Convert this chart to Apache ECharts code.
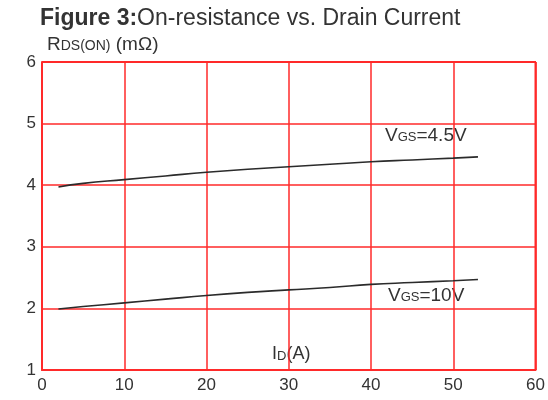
<!DOCTYPE html>
<html>
<head>
<meta charset="utf-8">
<script src="https://cdn.jsdelivr.net/npm/echarts@6/dist/echarts.min.js"></script>
<style>
  html, body { margin: 0; padding: 0; background: #fff; }
  #chart { width: 548px; height: 400px; }
</style>
</head>
<body>
<div id="chart"></div>
<script>
// Drain current (A) sample points
const drainCurrent = [2, 5, 10, 15, 20, 25, 30, 35, 40, 45, 50, 53];
// On-resistance (mΩ) at VGS = 4.5V
const rdsVgs45 = [3.97, 4.03, 4.09, 4.15, 4.21, 4.26, 4.30, 4.34, 4.38, 4.41, 4.44, 4.46];
// On-resistance (mΩ) at VGS = 10V
const rdsVgs10 = [1.99, 2.03, 2.09, 2.15, 2.21, 2.26, 2.30, 2.34, 2.39, 2.42, 2.45, 2.47];
// Axis tick labels
const xTicks = [0, 10, 20, 30, 40, 50, 60];
const yTicks = [1, 2, 3, 4, 5, 6];

const FONT = '"Liberation Sans", Arial, sans-serif';
const TXT = '#333';
const RED = '#ff2a2a';

const chart = echarts.init(document.getElementById('chart'));

function subText(left, top, main, sub, rest, big, small) {
  return {
    type: 'text', left: left, top: top,
    style: {
      text: '{r|' + main + '}{s|' + sub + '}{r|' + rest + '}',
      rich: {
        r: { fontFamily: FONT, fontSize: big, fill: TXT },
        s: { fontFamily: FONT, fontSize: small, fill: TXT, padding: [Math.round(big * 0.22), 0, 0, 0] }
      }
    }
  };
}

chart.setOption({
  animation: false,
  backgroundColor: '#fff',
  grid: { left: 42, right: 12, top: 62, bottom: 30 },
  xAxis: {
    type: 'value',
    min: xTicks[0], max: xTicks[xTicks.length - 1], interval: 10,
    axisLine: { show: true, lineStyle: { color: RED, width: 2 } },
    axisTick: { show: false },
    splitLine: { show: true, lineStyle: { color: RED, width: 1.5 } },
    axisLabel: { color: TXT, fontFamily: FONT, fontSize: 17, margin: 7 }
  },
  yAxis: {
    type: 'value',
    min: yTicks[0], max: yTicks[yTicks.length - 1], interval: 1,
    axisLine: { show: true, lineStyle: { color: RED, width: 2 } },
    axisTick: { show: false },
    splitLine: { show: true, lineStyle: { color: RED, width: 1.5 } },
    axisLabel: { color: TXT, fontFamily: FONT, fontSize: 17, margin: 6 }
  },
  series: [
    {
      name: 'VGS=4.5V', type: 'line', smooth: true, showSymbol: false,
      lineStyle: { color: '#2b2b2b', width: 1.6 },
      data: drainCurrent.map((x, i) => [x, rdsVgs45[i]])
    },
    {
      name: 'VGS=10V', type: 'line', smooth: true, showSymbol: false,
      lineStyle: { color: '#2b2b2b', width: 1.6 },
      data: drainCurrent.map((x, i) => [x, rdsVgs10[i]])
    }
  ],
  graphic: [
    // right and top frame edges
    { type: 'line', shape: { x1: 535.5, y1: 62, x2: 535.5, y2: 370 }, style: { stroke: RED, lineWidth: 2 }, silent: true },
    { type: 'line', shape: { x1: 42, y1: 62, x2: 536, y2: 62 }, style: { stroke: RED, lineWidth: 2 }, silent: true },
    {
      type: 'text', left: 40, top: 7,
      style: {
        text: '{b|Figure 3:}{n|On-resistance vs. Drain Current}',
        rich: {
          b: { fontFamily: FONT, fontSize: 23, fontWeight: 'bold', fill: TXT },
          n: { fontFamily: FONT, fontSize: 23, fill: TXT }
        }
      }
    },
    subText(47, 35, 'R', 'DS(ON)', ' (mΩ)', 19, 14),
    subText(385, 126, 'V', 'GS', '=4.5V', 19, 13),
    subText(388, 286, 'V', 'GS', '=10V', 19, 13),
    subText(272, 345, 'I', 'D', '(A)', 18, 13)
  ]
});
</script>
</body>
</html>
